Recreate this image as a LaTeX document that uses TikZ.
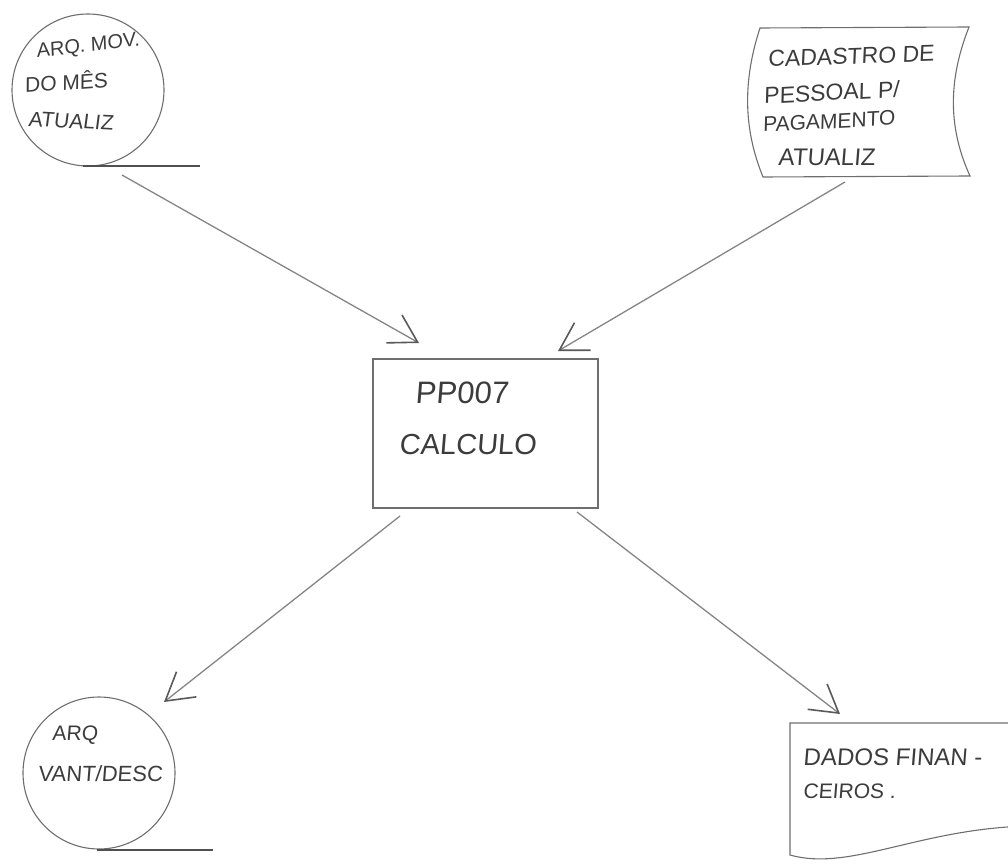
\documentclass[tikz,border=0pt]{standalone}
\usepackage{fontspec}
\newfontfamily\hand[FakeSlant=0.08]{Liberation Sans}
\usetikzlibrary{arrows.meta}
\definecolor{ink}{HTML}{3C3C3C}
\definecolor{pencil}{HTML}{6E6E6E}
\definecolor{shaft}{HTML}{858585}
\begin{document}
\begin{tikzpicture}[x=1pt,y=-1pt,
  outline/.style={draw=pencil,line width=1.1pt},
  underl/.style={draw=ink!90,line width=1.6pt},
  txt/.style={inner sep=0pt,anchor=base west,text=ink,font=\hand\fontsize{#1}{#1}\selectfont},
  flow/.style={draw=shaft,line width=1.3pt,
    -{Straight Barb[length=27pt,width=32pt,line width=1.6pt,color=ink!85]}}]
\useasboundingbox (0,0) rectangle (1008,866);
\clip (0,0) rectangle (1008,866);
% shapes
\node[outline,circle,minimum size=152pt,inner sep=0pt] (c1) at (88,90) {};
\draw[underl] (83,166) -- (200,166);
\node[outline,circle,minimum size=152pt,inner sep=0pt] (c2) at (99,773) {};
\draw[underl] (97,850) -- (213,850);
\node[outline,rectangle,minimum width=225pt,minimum height=149pt,inner sep=0pt] (box) at (485.5,433.5) {};
\path[outline] (760,28) -- (969,27) .. controls (948,80) and (948,128) .. (970,176)
   -- (763,177) .. controls (743,128) and (743,80) .. (760,28) -- cycle;
\path[outline] (1030,723) -- (790,723) -- (790,855) .. controls (850,872) and (920,828) .. (1030,826);
% texts
\node[txt=20,rotate=7] (t1a) at (37,58) {ARQ. MOV.};
\node[txt=21,rotate=4] (t1b) at (25,93) {DO MÊS};
\node[txt=21,rotate=-3] (t1c) at (28,126) {ATUALIZ};
\node[txt=23,rotate=2] (t2a) at (768,67) {CADASTRO DE};
\node[txt=23,rotate=3] (t2b) at (764,104) {PESSOAL P/};
\node[txt=21,rotate=3] (t2c) at (763,132) {PAGAMENTO};
\node[txt=24] (t2d) at (778,166) {ATUALIZ};
\node[txt=31] (t3a) at (415,403) {PP007};
\node[txt=29] (t3b) at (399,454) {CALCULO};
\node[txt=21] (t4a) at (52,740) {ARQ};
\node[txt=22] (t4b) at (38,781) {VANT/DESC};
\node[txt=24] (t5a) at (803,765) {DADOS FINAN -};
\node[txt=21] (t5b) at (803,798) {CEIROS .};
% connectors
\coordinate (a1s) at (122,175); \coordinate (a1e) at (419,343);
\coordinate (a2s) at (845,182); \coordinate (a2e) at (558,351);
\coordinate (a3s) at (400,516); \coordinate (a3e) at (164,702);
\coordinate (a4s) at (577,512); \coordinate (a4e) at (840,714);
\draw[flow] (a1s) -- (a1e);
\draw[flow] (a2s) -- (a2e);
\draw[flow] (a3s) -- (a3e);
\draw[flow] (a4s) -- (a4e);
\end{tikzpicture}
\end{document}
